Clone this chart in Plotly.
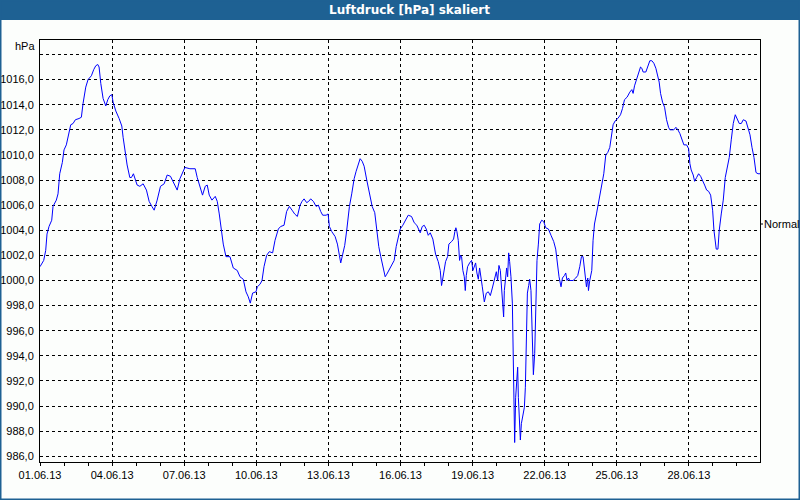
import pandas as pd
import plotly.graph_objects as go

# Luftdruck Juni 2013 (Stunden seit 01.06.13 00:00, Druck in hPa)
stunden = [
    0, 3.7, 5.7, 7, 9, 11.7, 13, 16.3, 18, 19.7, 22.3, 24, 26.3, 29, 30.7, 33, 35.3, 39, 41.3, 43,
    45.7, 48, 51.3, 53.7, 55.7, 57.7, 59, 60.7, 63, 65.7, 67.7, 69.7, 71.7, 73, 75.7, 79, 81.7, 83,
    85, 87, 89.7, 91.3, 93.3, 95, 97, 99.7, 103, 106.3, 109, 111.7, 114, 117, 120.3, 124, 127,
    130.3, 133.7, 137, 139.7, 142.3, 144.7, 149.7, 155, 157, 159.7, 162.3, 165, 167, 169, 171.7,
    175, 177, 179, 181, 183, 185.7, 189.7, 193, 197, 199.7, 203, 205.7, 208, 210,
    212.3, 215.7, 217, 219.7, 221.7, 223.7, 226.3, 229, 232.3, 234.7, 238, 240.3, 243.7, 246.3,
    249, 251.7, 254.3, 257, 259.7, 261.7, 263.7, 266.3, 268.3, 270.3, 273, 275.7, 278, 280.3,
    282.3, 285.7, 287.7, 289, 291.3, 294.7, 297, 299, 300.3, 302.3, 304.3, 306.3, 309, 311.3,
    313.7, 315.7, 318, 319.7, 321.7, 323.7, 326.3, 329, 331.7, 334.3, 336.3, 338.3, 340.3, 342.3,
    344.7, 346.3, 349, 351.3, 353.7, 355.7, 357.7, 359.7, 362.3, 365, 367.7, 371, 373.7, 376.3,
    378.3, 379.7, 381.7, 383.7, 385.7, 387.7, 389.7, 392.3, 395, 397.7, 399.7, 401,
    402.3, 403.7, 405, 407, 408.3, 411, 413, 414.3, 415.3, 416.3, 417.7, 419, 420, 421, 422.3,
    423.7, 424.7, 425.7, 427, 429, 431, 432.3, 433.7, 435, 436.3, 437.7, 439, 440.3, 441.7,
    443.7, 445.7, 447.7, 449.7, 451.7, 453.7, 455.7, 457, 458.3, 459.7, 461, 462.3, 463, 463.7,
    465, 466, 467, 468, 469, 470.3, 471.7, 472.3, 473, 474, 475, 476, 477, 477.7, 478.7, 479.7,
    480.7, 482, 483.7, 484.7, 485.7, 486.7, 488, 489, 490.3, 491.7, 492.7, 494, 495, 496.3,
    497.7, 499, 501, 503, 505, 507.7, 510.3, 513, 515, 516.3, 518.3, 520.3, 521.7, 523.7, 525,
    526.3, 527.7, 529,
    532.3, 535, 537, 539, 540.7, 542.3, 543.7, 545, 545.7, 547, 547.7, 549, 551, 552.3, 553.7,
    555.7, 557.7, 559.7, 561.7, 563, 565, 567, 569, 571, 572.3, 574.3, 577, 579.7, 581.7, 583.7,
    586.3, 589, 591, 592.3, 593.7, 595.7, 597.7, 599.7, 601, 602.3, 605, 607, 609, 611, 613, 615,
    617, 618.3, 619.7, 621.7, 623.7, 625.7, 627.7, 629, 631, 633, 635, 637, 639, 641, 643, 645.7,
    647.7, 649, 650.3, 652.3, 653.7, 655.7, 657.7, 659.7, 661.7, 663.7, 665.7, 667.7, 669.7,
    671.7, 673, 674.3, 675.3, 677, 678.3, 680.3, 682.3, 684.3, 686.3, 688.3, 690.3, 692.3, 694.3,
    696.3, 698.3, 700.3, 702.3, 705, 707, 709, 711, 713, 715, 717, 719,
]
druck = [
    1001.1, 1001.6, 1002.4, 1003.7, 1004.3, 1004.8, 1005.9, 1006.4, 1006.9, 1008.5, 1009.4, 1010.4,
    1010.8, 1011.7, 1012.4, 1012.5, 1012.8, 1012.9, 1013.0, 1014.1, 1015.4, 1016.0, 1016.3, 1016.8,
    1017.1, 1017.2, 1017.0, 1015.7, 1014.5, 1013.9, 1014.4, 1014.7, 1014.8, 1014.2, 1013.5, 1012.9,
    1012.3, 1011.4, 1010.1, 1009.2, 1008.2, 1008.2, 1008.5, 1008.1, 1007.6, 1007.5, 1007.7, 1007.2,
    1006.3, 1005.9, 1005.6, 1006.4, 1007.5, 1007.7, 1008.4, 1008.3, 1007.7, 1007.2, 1008.1, 1008.6,
    1009.0, 1008.9, 1008.9, 1008.2, 1007.5, 1006.8, 1007.5, 1007.6, 1006.8, 1006.4, 1006.7, 1006.3,
    1005.3, 1004.0, 1002.9, 1001.9, 1001.9, 1001.0, 1000.8, 1000.3, 1000.1, 999.1, 998.7, 998.2,
    999.0, 999.1, 999.5, 999.7, 1000.0, 1001.1, 1002.0, 1002.3, 1002.2, 1003.2, 1004.1, 1004.3,
    1004.4, 1005.5, 1005.9, 1005.6, 1005.3, 1005.1, 1006.0, 1006.3, 1006.5, 1006.2, 1006.3, 1006.5,
    1006.3, 1005.9, 1006.0, 1005.5, 1005.2, 1005.2, 1005.3, 1004.3, 1003.9, 1003.5, 1002.9, 1002.0,
    1001.4, 1002.1, 1002.8, 1004.0, 1005.9, 1006.9, 1008.1, 1008.7, 1009.3, 1009.7, 1009.5, 1009.1,
    1008.0, 1006.9, 1005.9, 1005.4, 1004.0, 1002.7, 1001.9, 1001.1, 1000.3, 1000.5, 1000.9, 1001.2,
    1001.6, 1002.7, 1003.5, 1004.1, 1004.4, 1004.8, 1005.2, 1005.1, 1004.6, 1004.4, 1004.0, 1003.8,
    1004.3, 1004.4, 1004.1, 1003.6, 1003.8, 1003.3, 1002.1, 1001.5, 1000.8, 999.6,
    1000.2, 1001.1, 1001.5, 1001.9, 1002.9, 1003.1, 1003.3, 1003.9, 1004.2, 1003.9, 1003.2, 1001.6,
    1002.0, 1001.9, 1000.8, 1000.3, 999.2, 1000.4, 1001.1, 1001.4, 1001.6, 1000.8, 1001.1, 1001.4,
    1000.6, 1000.1, 1001.0, 1000.4, 999.5, 998.3, 999.0, 999.1, 998.8, 999.4, 1000.0, 1000.7,
    1000.0, 1001.2, 1000.8, 999.6, 998.0, 997.1, 999.2, 1000.4, 1001.0, 1000.3, 1002.2, 1001.5,
    1000.3, 998.2, 994.2, 989.7, 987.1, 990.7, 992.2, 993.1, 990.7, 988.9, 987.3, 988.6, 989.1,
    989.9, 991.5, 995.5, 999.0, 999.6, 1000.1, 999.2, 995.6, 992.5, 994.2, 997.1, 1001.6, 1002.9,
    1004.5, 1004.8, 1004.7, 1004.2, 1004.1, 1003.6, 1003.1, 1002.5, 1001.6, 1000.3, 999.5, 1000.2,
    1000.4, 1000.6, 1000.0, 1000.2, 1000.0,
    1000.0, 1000.2, 1000.4, 1001.1, 1001.9, 1001.9, 1000.8, 1000.2, 999.5, 1000.2, 999.2, 1000.0,
    1000.8, 1003.2, 1004.5, 1005.3, 1006.1, 1006.9, 1007.7, 1008.5, 1010.0, 1010.2, 1010.6, 1012.0,
    1012.4, 1012.7, 1012.9, 1013.2, 1013.7, 1014.4, 1014.6, 1015.0, 1015.2, 1014.9, 1015.5, 1016.0,
    1016.5, 1017.0, 1016.9, 1016.6, 1016.6, 1017.1, 1017.5, 1017.5, 1017.3, 1016.9, 1016.3, 1015.8,
    1014.9, 1014.2, 1013.8, 1012.8, 1012.2, 1012.0, 1012.0, 1012.0, 1012.2, 1012.0, 1011.7, 1011.2,
    1010.8, 1010.8, 1010.5, 1009.3, 1008.8, 1008.4, 1007.9, 1008.2, 1008.5, 1008.3, 1008.0, 1007.6,
    1007.2, 1007.1, 1006.8, 1005.6, 1004.0, 1002.9, 1002.5, 1002.5, 1004.0, 1005.3, 1006.4, 1008.2,
    1009.0, 1009.8, 1011.2, 1012.5, 1013.2, 1012.8, 1012.5, 1012.5, 1012.8, 1012.7, 1012.2, 1011.6,
    1010.6, 1009.8, 1008.6, 1008.5, 1008.5,
]
# Gitterlinien alle 2 hPa; die oberste Linie (1018) bleibt ohne Beschriftung
y_ticks = list(range(986, 1019, 2))
y_labels = [f"{v:.1f}".replace(".", ",") for v in y_ticks[:-1]] + [""]
normal_wert = 1004.5

start = pd.Timestamp("2013-06-01 00:00")
zeit = start + pd.to_timedelta(stunden, unit="h")

# Pixel-Geometrie (Fenster 800x500)
W, H = 800, 500
ml, mr, mt, mb = 40, 40, 40, 38
pw, ph = W - ml - mr, H - mt - mb


def px_x(p):
    return (p - ml) / pw


def px_y(p):
    return (H - mb - p) / ph


blau_rahmen = "#1e6193"
font = "Liberation Sans"

fig = go.Figure()
fig.add_trace(go.Scatter(
    x=zeit, y=druck, mode="lines",
    line=dict(color="#0000ff", width=1),
    hoverinfo="skip", showlegend=False,
))

fig.update_layout(
    width=W, height=H,
    margin=dict(l=ml, r=mr, t=mt, b=mb, pad=0, autoexpand=False),
    paper_bgcolor="#fcfefc", plot_bgcolor="#fcfefc",
    font=dict(family=font, size=11, color="black"),
    showlegend=False,
)

fig.update_xaxes(
    range=[start, start + pd.Timedelta(hours=719)],
    type="date", automargin=False,
    tick0=start, dtick=3 * 86400000, tickformat="%d.%m.%y",
    ticks="outside", ticklen=3, tickcolor="black",
    minor=dict(dtick=86400000, ticks="outside", ticklen=3, tickcolor="black", showgrid=False),
    showgrid=True, gridcolor="black", gridwidth=1, griddash="3px,3px",
    showline=True, linecolor="black", linewidth=1, mirror=True,
    zeroline=False, ticklabelstandoff=0,
)
fig.update_yaxes(
    range=[985.55, 1019.15], automargin=False,
    tickmode="array", tickvals=y_ticks, ticktext=y_labels,
    ticks="", ticklabelstandoff=3,
    showgrid=True, gridcolor="black", gridwidth=1, griddash="3px,3px",
    showline=True, linecolor="black", linewidth=1, mirror=True,
    zeroline=False,
)

# Titelleiste und Fensterrahmen
fig.add_shape(type="rect", xref="paper", yref="paper",
              x0=px_x(0), x1=px_x(W), y0=px_y(20), y1=px_y(0),
              fillcolor=blau_rahmen, line=dict(width=0), layer="above")
fig.add_shape(type="rect", xref="paper", yref="paper",
              x0=px_x(0), x1=px_x(W), y0=px_y(H), y1=px_y(0),
              fillcolor="rgba(0,0,0,0)", line=dict(color=blau_rahmen, width=3), layer="above")
fig.add_annotation(text="<b>Luftdruck [hPa] skaliert</b>", xref="paper", yref="paper",
                   x=px_x(410), y=px_y(10), xanchor="center", yanchor="middle",
                   showarrow=False, font=dict(family="DejaVu Sans", size=12, color="white"))

# Einheit oben links
fig.add_annotation(text="hPa", xref="paper", yref="paper",
                   x=px_x(37), y=px_y(46), xanchor="right", yanchor="middle",
                   showarrow=False, font=dict(family=font, size=11))

# Normal-Markierung rechts
fig.add_shape(type="line", xref="paper", yref="y",
              x0=1, x1=px_x(W - mr + 3), y0=normal_wert, y1=normal_wert,
              line=dict(color="black", width=1))
fig.add_annotation(text="Normal", xref="paper", yref="y",
                   x=px_x(W - mr + 2), y=normal_wert, xanchor="left", yanchor="middle",
                   showarrow=False, font=dict(family=font, size=11))

# Seitenrand des Browsers entfernen, damit die Grafik bei 0,0 beginnt
fig.write_html("out.html", config={"displayModeBar": False},
               post_script="document.body.style.margin='0';")
